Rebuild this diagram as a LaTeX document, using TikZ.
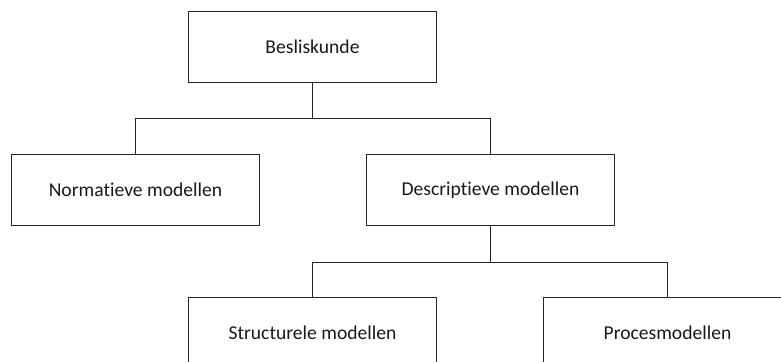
\documentclass[tikz,border=0pt]{standalone}
\usepackage{fontspec}
\setmainfont{Carlito}[Ligatures={NoCommon}]
\usetikzlibrary{positioning}
\tikzset{%
	orgbox/.style={rectangle, draw=black!85, line width=0.5pt, minimum width=124pt, minimum height=35.5pt, inner sep=0pt, font=\fontsize{9.8}{12}\selectfont, text=black!90},
	tak/.style={draw=black!85, line width=0.5pt}
}
\begin{document}
\begin{tikzpicture}
		\useasboundingbox (0,0) rectangle (390.5pt,-181pt);
		\node[orgbox] (top) at (156.25pt,-23.6pt) {Besliskunde};
		\node[orgbox] (norm) [below=35.4pt of top, xshift=-88.5pt] {Normatieve modellen};
		\node[orgbox] (desc) [below=35.4pt of top, xshift=89pt] {Descriptieve modellen};
		\node[orgbox] (struct) [below=35.6pt of desc, xshift=-89pt] {Structurele modellen};
		\node[orgbox] (proc) [below=35.6pt of desc, xshift=88.5pt] {Procesmodellen};
		
		\path[tak] (top.south) -- ++(0,-17.7pt) coordinate (split1);
		\path[tak] (split1) -| (norm.north);
		\path[tak] (split1) -| (desc.north);
		
		\path[tak] (desc.south) -- ++(0,-18.1pt) coordinate (split2);
		\path[tak] (split2) -| (struct.north);
		\path[tak] (split2) -| (proc.north);
	\end{tikzpicture}
\end{document}
